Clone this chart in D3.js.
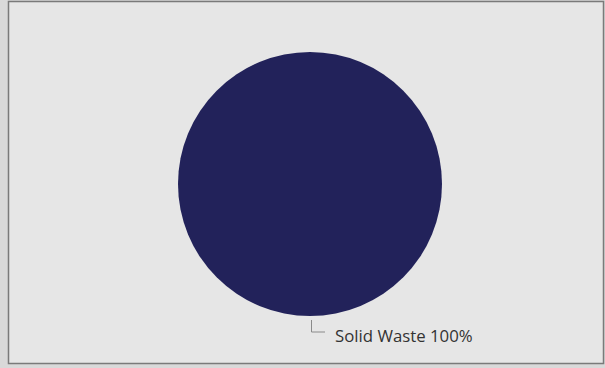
<!DOCTYPE html>
<html>
<head>
<meta charset="utf-8">
<script src="https://cdn.jsdelivr.net/npm/d3@7"></script>
<style>
  html, body { margin: 0; padding: 0; background: #d9d9d9; }
  svg { display: block; }
</style>
</head>
<body>
<div id="chart"></div>
<script>
// data
const categories = ['Solid Waste'];
const values = [100];
const colors = ['#22225a'];

const width = 605, height = 368;

const svg = d3.select('#chart').append('svg')
    .attr('width', width)
    .attr('height', height);

// panel background + frame
svg.append('rect')
    .attr('x', 8.5).attr('y', 1.5)
    .attr('width', 595).attr('height', 362)
    .attr('fill', '#e6e6e6')
    .attr('stroke', '#7a7a7a')
    .attr('stroke-width', 1.5);

const cx = 310, cy = 184, radius = 132;

const pie = d3.pie().sort(null).value(d => d.value);
const arc = d3.arc().innerRadius(0).outerRadius(radius);

const data = categories.map((c, i) => ({ name: c, value: values[i], color: colors[i] }));
const total = d3.sum(values);

const g = svg.append('g').attr('transform', `translate(${cx},${cy})`);

g.selectAll('path')
    .data(pie(data))
    .join('path')
    .attr('d', arc)
    .attr('fill', d => d.data.color);

// label with leader line (single slice sits at the bottom)
const lbl = pie(data)[0];
g.append('polyline')
    .attr('points', [[1.5, radius + 4], [1.5, radius + 16], [15, radius + 16]].map(p => p.join(',')).join(' '))
    .attr('fill', 'none')
    .attr('stroke', '#8a8a8a')
    .attr('stroke-width', 1);

g.append('text')
    .attr('x', 25)
    .attr('y', radius + 26)
    .attr('font-family', '"Open Sans", "DejaVu Sans", sans-serif')
    .attr('font-size', 16.8)
    .attr('fill', '#333')
    .text(`${lbl.data.name} ${Math.round(lbl.data.value / total * 100)}%`);
</script>
</body>
</html>
